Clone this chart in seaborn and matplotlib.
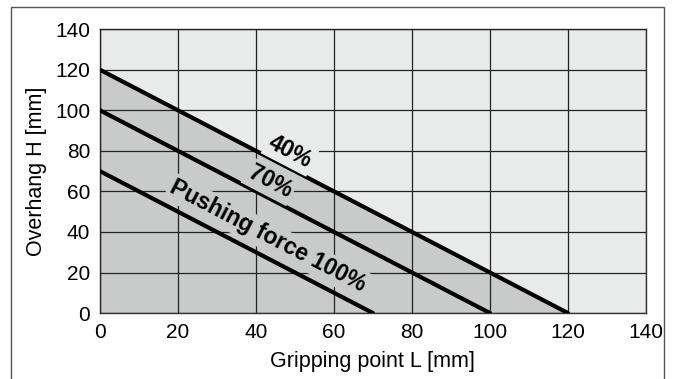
import matplotlib
matplotlib.use("Agg")
import matplotlib.pyplot as plt
import seaborn as sns
import pandas as pd
from matplotlib.patches import Rectangle

# Gripping point L vs. overhang H for each pushing force
force_labels = ["40%", "70%", "Pushing force 100%"]
grip_L = [[0, 120], [0, 100], [0, 70]]
overhang_H = [[120, 0], [100, 0], [70, 0]]
ticks = [0, 20, 40, 60, 80, 100, 120, 140]

# where the labels sit along each line
label_x = [48.7, 43.6, 43.1]
label_y = [79.3, 64.8, 37.8]

rows = []
for lab, xs, ys in zip(force_labels, grip_L, overhang_H):
    for x, y in zip(xs, ys):
        rows.append({"force": lab, "L": x, "H": y})
df = pd.DataFrame(rows)

sns.set_style("white")
plt.rcParams["font.family"] = ["Liberation Sans", "DejaVu Sans"]

fig = plt.figure(figsize=(6.75, 3.79), dpi=100)
ax = fig.add_axes([0.148, 0.174, 0.809, 0.749])

light = "#e9eaea"
dark = "#c9caca"
ax.set_facecolor(light)

# shaded area under the outer (40%) line
ax.fill_between(grip_L[0], overhang_H[0], 0, color=dark, zorder=1, lw=0)

ax.set_xlim(0, 140)
ax.set_ylim(0, 140)
ax.set_xticks(ticks)
ax.set_yticks(ticks)
ax.grid(True, color="#222222", lw=0.9, zorder=2)
ax.set_axisbelow(False)

sns.lineplot(data=df, x="L", y="H", hue="force", palette=["black"] * 3,
             linewidth=3, legend=False, ax=ax, zorder=4)

for lab, x, y, bg in zip(force_labels, label_x, label_y, [light, dark, dark]):
    ax.text(x, y, lab, rotation=-45, transform_rotates_text=True,
            rotation_mode="anchor", ha="center", va="center",
            fontsize=16.5, fontweight="bold", color="black", zorder=5,
            bbox=dict(boxstyle="square,pad=0.12", fc=bg, ec="none"))

for s in ax.spines.values():
    s.set_color("#333333")
    s.set_linewidth(1.0)

ax.tick_params(axis="both", length=0, labelsize=15, pad=7, colors="black")
ax.set_xlabel("Gripping point L [mm]", fontsize=15.5, labelpad=7, color="black")
ax.set_ylabel("Overhang H [mm]", fontsize=15.5, labelpad=6, color="black")

# outer frame of the figure (open at the bottom)
fig.add_artist(Rectangle((11 / 675, -0.05), (664 - 11) / 675, 1 - 7 / 379 + 0.05,
                         transform=fig.transFigure, fill=False,
                         ec="#555555", lw=1.0))

fig.savefig("out.png", dpi=100)
